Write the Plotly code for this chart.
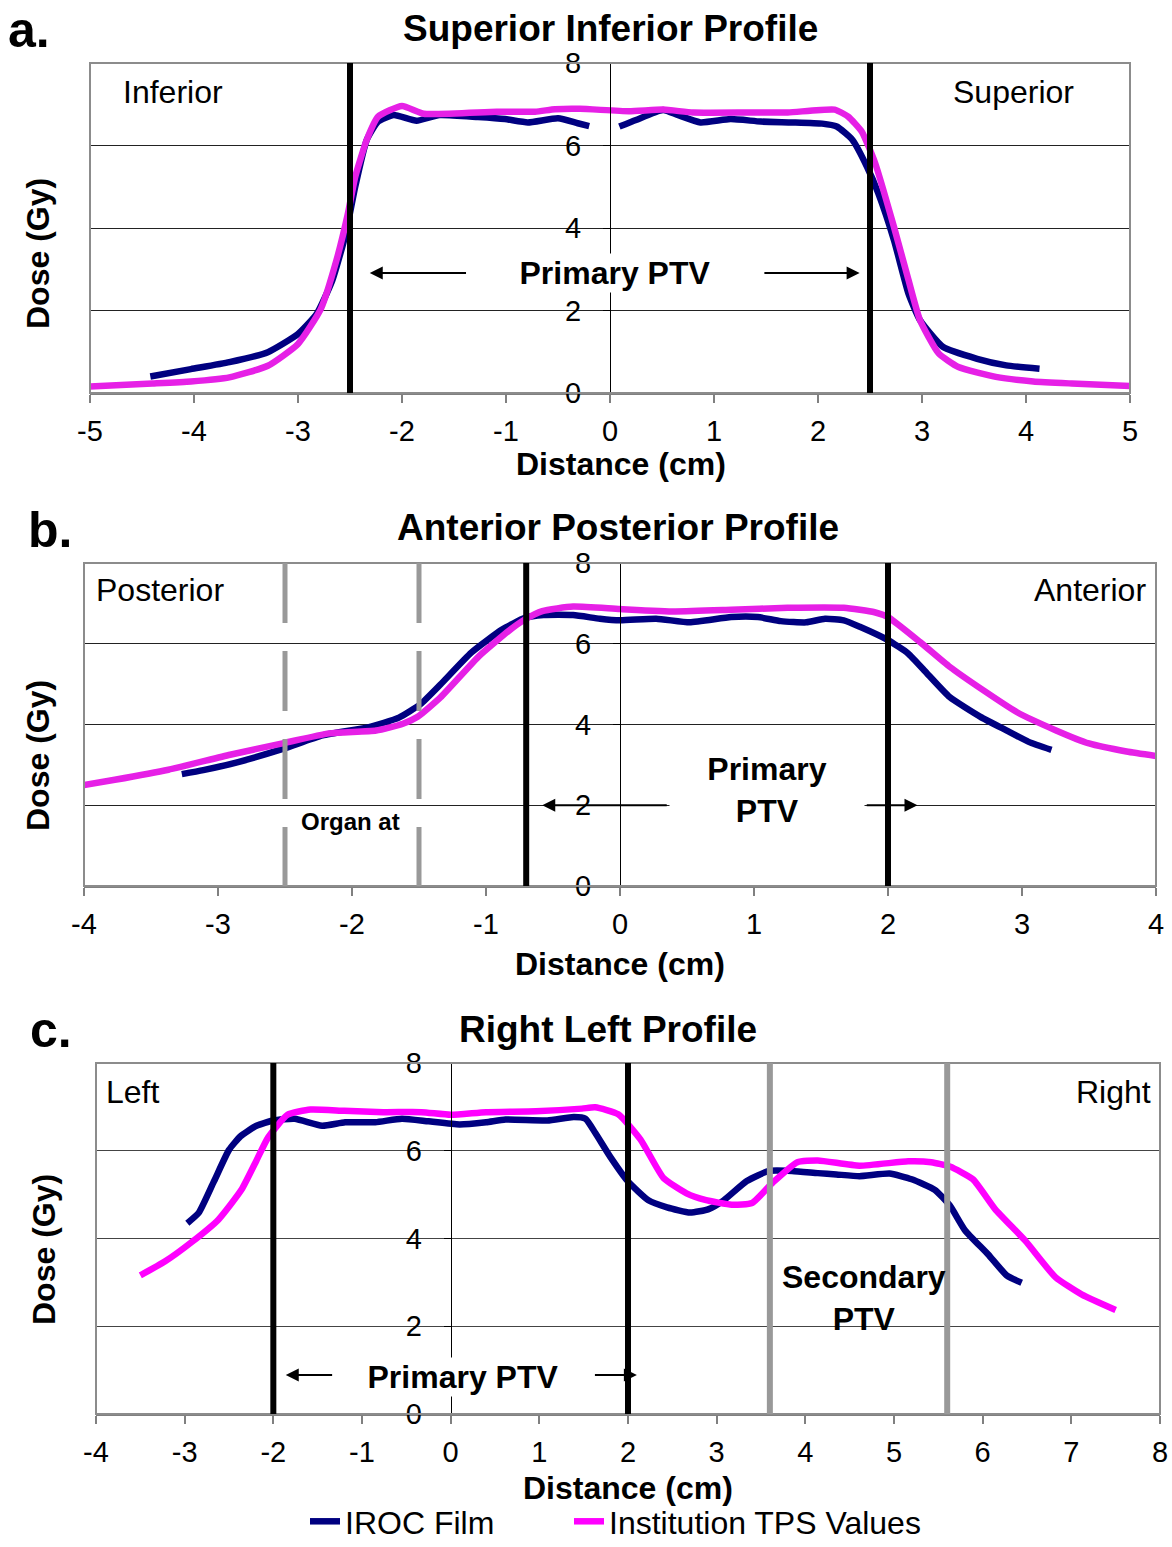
import plotly.graph_objects as go

FONT = "Liberation Sans, Arial, sans-serif"
NAVY = "#000080"
MAGENTA_AB = "#E620E6"
MAGENTA_C = "#FF00FF"

# ---- a. Superior Inferior profile ----
si_film_x = [-4.42, -4.03, -3.66, -3.29, -3.0, -2.82, -2.67, -2.54, -2.45, -2.34, -2.23, -2.08,
             -1.86, -1.64, -1.27, -1.01, -0.79, -0.5, -0.31, -0.2, None,
             0.09, 0.25, 0.51, 0.65, 0.87, 1.16, 1.45, 1.75, 2.04, 2.18, 2.33, 2.47, 2.58, 2.73,
             2.87, 2.98, 3.2, 3.53, 3.81, 4.13]
si_film_y = [0.40, 0.58, 0.75, 0.99, 1.43, 1.92, 2.73, 3.87, 5.0, 6.13, 6.58, 6.74,
             6.6, 6.74, 6.69, 6.64, 6.56, 6.66, 6.54, 6.47, None,
             6.46, 6.62, 6.86, 6.74, 6.56, 6.64, 6.58, 6.56, 6.53, 6.46, 6.14, 5.49, 4.84, 3.71,
             2.41, 1.77, 1.12, 0.83, 0.67, 0.59]
si_tps_x = [-5.0, -4.4, -4.03, -3.66, -3.29, -3.0, -2.78, -2.63, -2.52, -2.45, -2.34, -2.23, -2.0,
            -1.79, -1.09, -0.72, -0.53, -0.29, 0.18, 0.51, 0.8, 1.35, 1.71, 2.16, 2.29, 2.42,
            2.55, 2.73, 2.87, 2.98, 3.16, 3.35, 3.71, 4.07, 4.44, 5.0]
si_tps_y = [0.16, 0.23, 0.28, 0.38, 0.66, 1.19, 2.04, 3.22, 4.35, 5.24, 6.13, 6.7, 6.96,
            6.77, 6.82, 6.82, 6.88, 6.89, 6.83, 6.87, 6.8, 6.8, 6.8, 6.87, 6.7, 6.34,
            5.57, 4.03, 2.74, 1.77, 0.96, 0.63, 0.39, 0.28, 0.23, 0.17]

# ---- b. Anterior Posterior profile ----
ap_film_x = [-3.27, -3.11, -2.85, -2.51, -2.22, -1.88, -1.65, -1.49, -1.34, -1.11, -0.88, -0.71,
             -0.57, -0.35, -0.15, 0.0, 0.27, 0.52, 0.83, 1.03, 1.2, 1.39, 1.53, 1.67, 1.79,
             2.0, 2.15, 2.29, 2.46, 2.69, 2.88, 3.05, 3.22]
ap_film_y = [2.77, 2.87, 3.07, 3.4, 3.73, 3.93, 4.17, 4.5, 4.99, 5.78, 6.35, 6.64,
             6.71, 6.71, 6.62, 6.58, 6.62, 6.53, 6.66, 6.66, 6.56, 6.53, 6.62, 6.58, 6.42,
             6.09, 5.76, 5.27, 4.68, 4.19, 3.86, 3.57, 3.37]
ap_tps_x = [-4.0, -3.77, -3.37, -2.91, -2.51, -2.17, -1.82, -1.62, -1.51, -1.34, -1.05, -0.83,
            -0.71, -0.58, -0.35, 0.0, 0.41, 0.83, 1.25, 1.67, 1.9, 2.0, 2.24, 2.46, 2.71,
            2.96, 3.25, 3.5, 3.78, 4.0]
ap_tps_y = [2.5, 2.63, 2.88, 3.25, 3.54, 3.78, 3.85, 4.02, 4.19, 4.67, 5.7, 6.32,
            6.6, 6.81, 6.92, 6.86, 6.8, 6.84, 6.89, 6.89, 6.78, 6.66, 6.04, 5.43, 4.85,
            4.31, 3.86, 3.53, 3.33, 3.22]

# ---- c. Right Left profile ----
rl_film_x = [-2.97, -2.84, -2.67, -2.5, -2.37, -2.19, -2.0, -1.76, -1.45, -1.19, -0.85, -0.55,
             -0.25, 0.1, 0.4, 0.62, 1.09, 1.39, 1.52, 1.63, 1.8, 2.0, 2.23, 2.44, 2.7, 2.91,
             3.08, 3.34, 3.59, 3.85, 4.14, 4.35, 4.61, 4.95, 5.2, 5.46, 5.63, 5.8, 6.06,
             6.27, 6.44]
rl_film_y = [4.35, 4.59, 5.3, 6.02, 6.33, 6.57, 6.69, 6.73, 6.57, 6.65, 6.65, 6.73,
             6.67, 6.6, 6.65, 6.71, 6.69, 6.77, 6.73, 6.41, 5.86, 5.3, 4.87, 4.71, 4.59, 4.67,
             4.87, 5.31, 5.54, 5.54, 5.49, 5.46, 5.42, 5.48, 5.35, 5.11, 4.75, 4.19, 3.64,
             3.16, 2.99]
rl_tps_x = [-3.5, -3.22, -2.92, -2.62, -2.36, -2.19, -2.06, -1.84, -1.58, -1.2, -0.76, -0.33,
            0.0, 0.4, 0.96, 1.48, 1.63, 1.89, 2.14, 2.4, 2.66, 2.87, 3.17, 3.4, 3.63, 3.91,
            4.14, 4.61, 5.16, 5.42, 5.63, 5.89, 6.14, 6.48, 6.82, 7.12, 7.5]
rl_tps_y = [3.16, 3.48, 3.92, 4.43, 5.11, 5.78, 6.3, 6.82, 6.94, 6.91, 6.88, 6.88,
            6.82, 6.88, 6.9, 6.96, 6.99, 6.83, 6.26, 5.38, 5.03, 4.88, 4.77, 4.81, 5.27, 5.74,
            5.78, 5.66, 5.76, 5.74, 5.64, 5.35, 4.67, 3.95, 3.12, 2.72, 2.37]

# tick values and labels (plain hyphen minus)
si_ticks = [-5, -4, -3, -2, -1, 0, 1, 2, 3, 4, 5]
ap_ticks = [-4, -3, -2, -1, 0, 1, 2, 3, 4]
rl_ticks = [-4, -3, -2, -1, 0, 1, 2, 3, 4, 5, 6, 7, 8]
dose_ticks = [0, 2, 4, 6, 8]

panels = [
    dict(key="", film=(si_film_x, si_film_y), tps=(si_tps_x, si_tps_y), tps_color=MAGENTA_AB,
         ticks=si_ticks, xdom=[90, 1130], ydom=[63, 393], title="Superior Inferior Profile",
         title_xy=(610, 28), letter="a.", letter_xy=(6, 30), xt_xy=(621, 464), yt_xy=(38, 253)),
    dict(key="2", film=(ap_film_x, ap_film_y), tps=(ap_tps_x, ap_tps_y), tps_color=MAGENTA_AB,
         ticks=ap_ticks, xdom=[84, 1156], ydom=[563, 886], title="Anterior Posterior Profile",
         title_xy=(618, 527), letter="b.", letter_xy=(26, 530), xt_xy=(620, 964), yt_xy=(38, 755)),
    dict(key="3", film=(rl_film_x, rl_film_y), tps=(rl_tps_x, rl_tps_y), tps_color=MAGENTA_C,
         ticks=rl_ticks, xdom=[96, 1160], ydom=[1063, 1414], title="Right Left Profile",
         title_xy=(608, 1029), letter="c.", letter_xy=(28, 1030), xt_xy=(628, 1488), yt_xy=(44, 1250)),
]

W, H = 1172, 1547


def px(xp):
    return xp / W


def py(yp):
    return 1 - yp / H


fig = go.Figure()
layout = dict(
    width=W, height=H, margin=dict(l=0, r=0, t=0, b=0, autoexpand=False),
    paper_bgcolor="white", plot_bgcolor="white",
    font=dict(family=FONT, size=29, color="black"),
    showlegend=True,
    legend=dict(orientation="h", x=px(305), y=py(1549), xanchor="left", yanchor="bottom",
                font=dict(size=32, family=FONT), bgcolor="rgba(0,0,0,0)"),
    legend2=dict(orientation="h", x=px(569), y=py(1549), xanchor="left", yanchor="bottom",
                 font=dict(size=32, family=FONT), bgcolor="rgba(0,0,0,0)"),
)
annotations = []
shapes = []


def paper_text(text, xy, size, angle=0, xanchor="center"):
    annotations.append(dict(text=text, x=px(xy[0]), y=py(xy[1]), xref="paper", yref="paper",
                            xanchor=xanchor, yanchor="middle", showarrow=False,
                            textangle=angle, font=dict(size=size)))


for i, p in enumerate(panels):
    k = p["key"]
    xa, ya = "x" + k, "y" + k
    showleg = (i == 2)
    fig.add_trace(go.Scatter(x=p["film"][0], y=p["film"][1], mode="lines", name="IROC Film",
                             xaxis=xa, yaxis=ya, legend="legend", showlegend=showleg,
                             line=dict(color=NAVY, width=6.5, shape="spline", smoothing=0.5)))
    fig.add_trace(go.Scatter(x=p["tps"][0], y=p["tps"][1], mode="lines",
                             name="Institution TPS Values",
                             xaxis=xa, yaxis=ya, legend="legend2", showlegend=showleg,
                             line=dict(color=p["tps_color"], width=6.5, shape="spline",
                                       smoothing=0.5)))
    x0p, x1p = p["xdom"]
    y0p, y1p = p["ydom"]
    xr = [p["ticks"][0], p["ticks"][-1]]
    zero_frac = px(x0p + (0 - xr[0]) / (xr[1] - xr[0]) * (x1p - x0p))
    layout["xaxis" + k] = dict(
        domain=[px(x0p), px(x1p)], range=xr, anchor=ya,
        tickvals=p["ticks"], ticktext=[str(t) for t in p["ticks"]],
        showline=True, linecolor="#808080", linewidth=2, ticks="outside", ticklen=8,
        tickwidth=2, tickcolor="#808080", showgrid=False, zeroline=False,
        tickfont=dict(size=29), ticklabelstandoff=3, automargin=False,
    )
    layout["yaxis" + k] = dict(
        domain=[py(y1p), py(y0p)], range=[0, 8], anchor="free", position=zero_frac,
        tickvals=dose_ticks, ticktext=[str(t) for t in dose_ticks],
        showline=True, linecolor="black", linewidth=1, ticks="outside", ticklen=7,
        tickcolor="black", showgrid=True, gridcolor="#222222" if i < 2 else "#444444",
        gridwidth=1, zeroline=False, tickfont=dict(size=29), ticklabelstandoff=16,
        automargin=False,
    )
    # plot border
    shapes.append(dict(type="rect", xref=xa + " domain", yref=ya + " domain", x0=0, x1=1,
                       y0=0, y1=1, line=dict(color="#8c8c8c", width=2), layer="above"))
    # titles and labels
    paper_text("<b>%s</b>" % p["title"], p["title_xy"], 37)
    paper_text("<b>%s</b>" % p["letter"], p["letter_xy"], 50, xanchor="left")
    paper_text("<b>Distance (cm)</b>", p["xt_xy"], 32)
    paper_text("<b>Dose (Gy)</b>", p["yt_xy"], 32, angle=-90)


def vline(k, x, color, width, dash="solid"):
    # drawn top to bottom so a dash pattern starts at the top border
    shapes.append(dict(type="line", xref="x" + k, yref="y" + k, x0=x, x1=x, y0=8, y1=0,
                       line=dict(color=color, width=width, dash=dash), layer="above"))


def label(k, text, x, y, size=32, bold=False, bg=None, width=None):
    a = dict(text=("<b>%s</b>" % text) if bold else text, x=x, y=y, xref="x" + k,
             yref="y" + k, showarrow=False, font=dict(size=size))
    if bg:
        a["bgcolor"] = bg
    if width:
        a["width"] = width
    annotations.append(a)


def arrow(k, head, tail, y):
    annotations.append(dict(text="", x=head, y=y, ax=tail, ay=y, xref="x" + k, yref="y" + k,
                            axref="x" + k, ayref="y" + k, showarrow=True, arrowhead=2,
                            arrowsize=1.3, arrowwidth=2, arrowcolor="black"))


# a. boundaries of the primary PTV
vline("", -2.5, "black", 6)
vline("", 2.5, "black", 6)
label("", "Inferior", -4.2, 7.3)
label("", "Superior", 3.88, 7.3)
label("", "Primary PTV", 0.05, 2.9, bold=True, bg="white", width=204)
arrow("", -2.31, -1.37, 2.91)
arrow("", 2.4, 1.47, 2.91)

# b. primary PTV and organ at risk
vline("2", -0.7, "black", 6)
vline("2", 2.0, "black", 6)
vline("2", -2.5, "#999999", 5, dash="60px,28px")
vline("2", -1.5, "#999999", 5, dash="60px,28px")
label("2", "Posterior", -3.43, 7.33)
label("2", "Anterior", 3.51, 7.33)
label("2", "Primary<br>PTV", 1.1, 2.38, bold=True, bg="white", width=192)
label("2", "Organ at", -2.01, 1.6, size=24, bold=True)
arrow("2", -0.58, 0.36, 2.0)
arrow("2", 2.22, 1.83, 2.0)

# c. primary and secondary PTV
vline("3", -2.0, "black", 6)
vline("3", 2.0, "black", 6)
vline("3", 3.6, "#999999", 6)
vline("3", 5.6, "#999999", 6)
label("3", "Left", -3.59, 7.33)
label("3", "Right", 7.47, 7.33)
label("3", "Primary PTV", 0.14, 0.84, bold=True, bg="white", width=204)
label("3", "Secondary<br>PTV", 4.66, 2.64, bold=True)
arrow("3", -1.86, -1.32, 0.89)
arrow("3", 2.1, 1.61, 0.89)

layout["annotations"] = annotations
layout["shapes"] = shapes
fig.update_layout(**layout)
fig.write_html("out.html")
